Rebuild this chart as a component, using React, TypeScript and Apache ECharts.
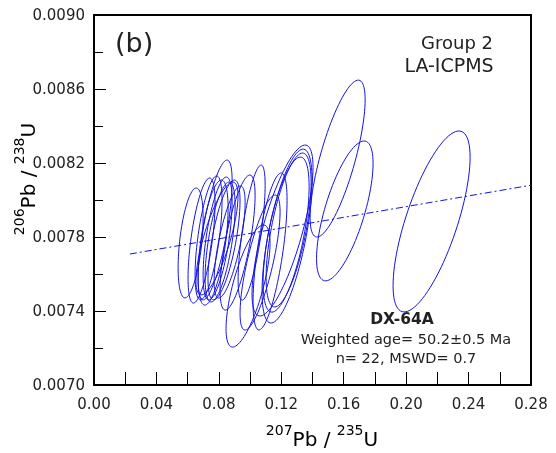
import React, { useEffect, useRef } from 'react';
import * as echarts from 'echarts';

// Error ellipses: centre (207Pb/235U, 206Pb/238U), half-widths, correlation
const ellipseX = [0.2163, 0.1561, 0.1607, 0.1208, 0.1237, 0.1247, 0.1231, 0.0619, 0.0689, 0.0734, 0.0763, 0.0792, 0.0808, 0.0833, 0.0869, 0.0776, 0.0987, 0.101, 0.1128, 0.0788, 0.092, 0.1064];
const ellipseY = [0.007884, 0.008224, 0.007941, 0.007835, 0.007805, 0.007838, 0.007813, 0.007768, 0.007781, 0.007795, 0.00777, 0.007792, 0.007773, 0.007784, 0.007773, 0.007838, 0.007535, 0.007824, 0.007722, 0.007792, 0.00777, 0.007662];
const errX = [0.02468, 0.01763, 0.01811, 0.01955, 0.01603, 0.01442, 0.01474, 0.00801, 0.00865, 0.00865, 0.00962, 0.0093, 0.00962, 0.01026, 0.00994, 0.0109, 0.0141, 0.00865, 0.0109, 0.01346, 0.01122, 0.01282];
const errY = [0.000489, 0.000424, 0.000378, 0.000462, 0.00047, 0.000416, 0.000419, 0.000297, 0.000338, 0.000335, 0.000338, 0.000332, 0.000324, 0.000324, 0.000303, 0.000378, 0.00033, 0.000365, 0.000424, 0.000305, 0.000365, 0.000365];
const rhoXY = [0.71, 0.75, 0.68, 0.74, 0.64, 0.62, 0.62, 0.45, 0.6, 0.6, 0.55, 0.6, 0.6, 0.65, 0.7, 0.7, 0.7, 0.7, 0.65, 0.75, 0.7, 0.75];

// Regression line end points
const lineX = [0.023, 0.28];
const lineY = [0.007708, 0.00808];

const FONT = 'DejaVu Sans';
const TEXT = '#222';
const BLUE = '#1212e6';

export default function App() {
  const ref = useRef<HTMLDivElement>(null);
  useEffect(() => {
    if (!ref.current) return;
    const chart = echarts.init(ref.current, null, { renderer: 'svg' });
    const ellipseData = ellipseX.map((x, i) => [x, ellipseY[i], errX[i], errY[i], rhoXY[i]]);
    const lineData = lineX.map((x, i) => [x, lineY[i]]);
    const richSup = {
      main: { fontSize: 20, fontFamily: FONT, color: TEXT, padding: [6, 0, 0, 0] },
      sup: { fontSize: 14, fontFamily: FONT, color: TEXT, verticalAlign: 'top' },
    };
    chart.setOption({
      animation: false,
      grid: { left: 94, top: 15, right: 25, bottom: 68, show: true, borderColor: '#000', borderWidth: 2 },
      xAxis: {
        type: 'value', min: 0, max: 0.28, interval: 0.04,
        axisLine: { show: true, lineStyle: { color: '#000', width: 2 } },
        axisTick: { show: true, inside: true, length: 13, lineStyle: { color: '#000', width: 1 } },
        minorTick: { show: true, splitNumber: 2, length: 13, lineStyle: { color: '#000', width: 1 } },
        axisLabel: { margin: 11, fontSize: 15, fontFamily: FONT, color: TEXT, formatter: (v: number) => v.toFixed(2) },
        splitLine: { show: false },
      },
      yAxis: {
        type: 'value', min: 0.007, max: 0.009, interval: 0.0004,
        axisLine: { show: true, lineStyle: { color: '#000', width: 2 } },
        axisTick: { show: true, inside: true, length: 12, lineStyle: { color: '#000', width: 1 } },
        minorTick: { show: true, splitNumber: 2, length: 9, lineStyle: { color: '#000', width: 1 } },
        axisLabel: { margin: 9, fontSize: 15, fontFamily: FONT, color: TEXT, formatter: (v: number) => v.toFixed(4) },
        splitLine: { show: false },
      },
      series: [
        {
          type: 'custom',
          data: ellipseData,
          encode: { x: 0, y: 1 },
          renderItem: (params: any, api: any) => {
            const cx = api.value(0), cy = api.value(1), sx = api.value(2), sy = api.value(3), r = api.value(4);
            const q = Math.sqrt(1 - r * r);
            const pts: number[][] = [];
            const n = 90;
            for (let i = 0; i <= n; i++) {
              const t = (2 * Math.PI * i) / n;
              pts.push(api.coord([cx + sx * Math.cos(t), cy + sy * (r * Math.cos(t) + q * Math.sin(t))]));
            }
            return { type: 'polyline', shape: { points: pts }, style: { fill: 'none', stroke: BLUE, lineWidth: 1 } };
          },
        },
        {
          type: 'line',
          data: lineData,
          symbol: 'none',
          lineStyle: { color: BLUE, width: 1, type: [7, 3, 2, 3] },
        },
      ],
      graphic: [
        { type: 'text', x: 115, y: 42, style: { text: '(b)', fontSize: 27, fontFamily: FONT, fill: TEXT, align: 'left', verticalAlign: 'middle' } },
        { type: 'text', x: 457, y: 42, style: { text: 'Group 2', fontSize: 18, fontFamily: FONT, fill: TEXT, align: 'center', verticalAlign: 'middle' } },
        { type: 'text', x: 449, y: 65, style: { text: 'LA-ICPMS', fontSize: 19, fontFamily: FONT, fill: TEXT, align: 'center', verticalAlign: 'middle' } },
        { type: 'text', x: 402, y: 319, style: { text: 'DX-64A', fontSize: 15.5, fontWeight: 'bold', fontFamily: FONT, fill: TEXT, align: 'center', verticalAlign: 'middle' } },
        { type: 'text', x: 406, y: 339, style: { text: 'Weighted age= 50.2\u00b10.5 Ma', fontSize: 14.5, fontFamily: FONT, fill: TEXT, align: 'center', verticalAlign: 'middle' } },
        { type: 'text', x: 406, y: 358, style: { text: 'n= 22, MSWD= 0.7', fontSize: 14.5, fontFamily: FONT, fill: TEXT, align: 'center', verticalAlign: 'middle' } },
        { type: 'text', x: 322, y: 423, style: { text: '{sup|207}{main|Pb / }{sup|235}{main|U}', rich: richSup, align: 'center', verticalAlign: 'top' } },
        { type: 'text', x: 11.5, y: 179, rotation: Math.PI / 2, style: { text: '{sup|206}{main|Pb / }{sup|238}{main|U}', rich: richSup, align: 'center', verticalAlign: 'top' } },
      ],
    });
    return () => chart.dispose();
  }, []);
  return <div ref={ref} style={{ position: 'fixed', left: 0, top: 0, width: 556, height: 453 }} />;
}
